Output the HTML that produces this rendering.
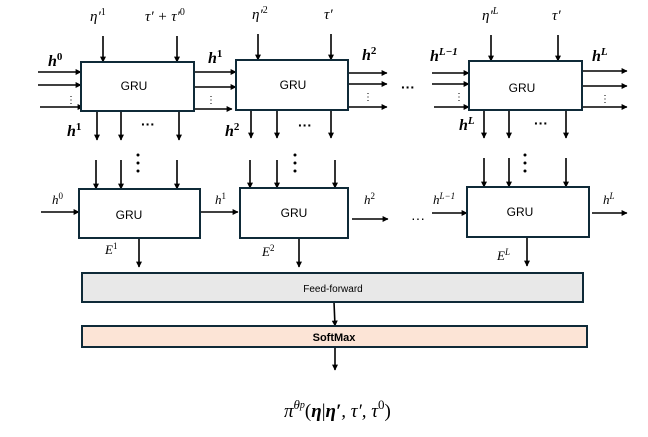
<!DOCTYPE html>
<html><head><meta charset="utf-8"><style>
body{margin:0;background:#fff}
svg{display:block}
.m{font-family:"Liberation Serif",serif;font-style:italic;font-size:15px}
.b{font-family:"Liberation Serif",serif;font-style:italic;font-weight:bold;font-size:16px}
.g{font-family:"Liberation Sans",sans-serif;font-size:12px}
</style></head><body>
<svg width="648" height="437" viewBox="0 0 648 437" xmlns="http://www.w3.org/2000/svg">
<defs><marker id="a" viewBox="0 0 10 10" refX="9" refY="5" markerWidth="6" markerHeight="6" markerUnits="userSpaceOnUse" orient="auto"><path d="M0,0L10,5L0,10z" fill="#000"/></marker></defs>
<g stroke="#000" stroke-width="1.6" marker-end="url(#a)" fill="none">
<line x1="103" y1="36" x2="103" y2="62"/><line x1="177" y1="36" x2="177" y2="62"/>
<line x1="258" y1="34" x2="258" y2="60"/><line x1="331" y1="34" x2="331" y2="60"/>
<line x1="491" y1="35" x2="491" y2="61"/><line x1="558" y1="35" x2="558" y2="61"/>
<line x1="38" y1="72" x2="81" y2="72"/><line x1="38" y1="85" x2="81" y2="85"/><line x1="40" y1="107" x2="83" y2="107"/>
<line x1="194" y1="72" x2="236" y2="72"/><line x1="194" y1="87" x2="236" y2="87"/><line x1="194" y1="109" x2="232" y2="109"/>
<line x1="348" y1="73" x2="387" y2="73"/><line x1="348" y1="84" x2="387" y2="84"/><line x1="348" y1="107" x2="387" y2="107"/>
<line x1="432" y1="73" x2="469" y2="73"/><line x1="432" y1="84" x2="469" y2="84"/><line x1="434" y1="107" x2="469" y2="107"/>
<line x1="582" y1="71" x2="627" y2="71"/><line x1="582" y1="86" x2="627" y2="86"/><line x1="582" y1="107" x2="627" y2="107"/>
<line x1="97" y1="111" x2="97" y2="140"/><line x1="121" y1="111" x2="121" y2="140"/><line x1="179" y1="111" x2="179" y2="140"/>
<line x1="251" y1="110" x2="251" y2="138"/><line x1="277" y1="110" x2="277" y2="138"/><line x1="331" y1="110" x2="331" y2="138"/>
<line x1="484" y1="110" x2="484" y2="138"/><line x1="509" y1="110" x2="509" y2="138"/><line x1="566" y1="110" x2="566" y2="138"/>
<line x1="96" y1="160" x2="96" y2="189"/><line x1="121" y1="160" x2="121" y2="189"/><line x1="177" y1="160" x2="177" y2="189"/>
<line x1="250" y1="160" x2="250" y2="188"/><line x1="277" y1="160" x2="277" y2="188"/><line x1="335" y1="160" x2="335" y2="188"/>
<line x1="484" y1="158" x2="484" y2="187"/><line x1="509" y1="158" x2="509" y2="187"/><line x1="566" y1="158" x2="566" y2="187"/>
<line x1="41" y1="212" x2="79" y2="212"/><line x1="201" y1="212" x2="238" y2="212"/>
<line x1="352" y1="219" x2="388" y2="219"/><line x1="432" y1="213" x2="467" y2="213"/><line x1="592" y1="213" x2="627" y2="213"/>
<line x1="139" y1="238" x2="139" y2="267"/><line x1="299" y1="238" x2="299" y2="267"/><line x1="527" y1="237" x2="527" y2="266"/>
<line x1="334" y1="302" x2="335" y2="326"/><line x1="335" y1="347" x2="335" y2="370"/>
</g>
<g fill="#fff" stroke="#0f2a38" stroke-width="2">
<rect x="81" y="62" width="113" height="49"/>
<rect x="236" y="60" width="112" height="50"/>
<rect x="469" y="61" width="113" height="49"/>
<rect x="79" y="189" width="121" height="49"/>
<rect x="240" y="188" width="108" height="50"/>
<rect x="467" y="187" width="122" height="50"/>
<rect x="82" y="273" width="501" height="29" fill="#e8e8e8"/>
<rect x="82" y="326" width="505" height="21" fill="#fce4d6"/>
</g>
<g class="g" text-anchor="middle">
<text x="134" y="90">GRU</text><text x="293" y="89">GRU</text><text x="522" y="92">GRU</text>
<text x="129" y="219">GRU</text><text x="294" y="217">GRU</text><text x="520" y="216">GRU</text>
<text x="333" y="292" font-size="10">Feed-forward</text>
<text x="334" y="341" font-weight="bold" font-size="11">SoftMax</text>
</g>
<g font-family="Liberation Sans" font-weight="bold" font-size="14" text-anchor="middle">
<text x="148" y="129">···</text><text x="305" y="130">···</text><text x="408" y="92">···</text><text x="541" y="128">···</text>
<text x="418" y="223" font-weight="normal">···</text>
</g>
<g fill="#000">
<circle cx="138" cy="155" r="1.5"/><circle cx="138" cy="163" r="1.5"/><circle cx="138" cy="171" r="1.5"/>
<circle cx="295" cy="155" r="1.5"/><circle cx="295" cy="163" r="1.5"/><circle cx="295" cy="171" r="1.5"/>
<circle cx="525" cy="155" r="1.5"/><circle cx="525" cy="163" r="1.5"/><circle cx="525" cy="171" r="1.5"/>
<g font-family="Liberation Sans" font-size="10">
<text x="66" y="103">⋮</text><text x="206" y="103">⋮</text><text x="363" y="100">⋮</text><text x="454" y="100">⋮</text><text x="600" y="102">⋮</text>
</g>
</g>
<g class="m">
<text x="90" y="21">η′<tspan font-size="10" dy="-6" font-style="normal">1</tspan></text>
<text x="145" y="21">τ′ + τ′<tspan font-size="10" dy="-6" font-style="normal">0</tspan></text>
<text x="252" y="19">η′<tspan font-size="10" dy="-6" font-style="normal">2</tspan></text>
<text x="324" y="19">τ′</text>
<text x="482" y="20">η′<tspan font-size="10" dy="-6">L</tspan></text>
<text x="552" y="20">τ′</text>
<text x="52" y="204" font-size="13">h<tspan font-size="9" dy="-5" font-style="normal">0</tspan></text>
<text x="215" y="204" font-size="13">h<tspan font-size="9" dy="-5" font-style="normal">1</tspan></text>
<text x="364" y="204" font-size="13">h<tspan font-size="9" dy="-5" font-style="normal">2</tspan></text>
<text x="433" y="204" font-size="13">h<tspan font-size="9" dy="-5">L−1</tspan></text>
<text x="603" y="204" font-size="13">h<tspan font-size="9" dy="-5">L</tspan></text>
<text x="105" y="254" font-size="13">E<tspan font-size="9" dy="-5" font-style="normal">1</tspan></text>
<text x="262" y="256" font-size="13">E<tspan font-size="9" dy="-5" font-style="normal">2</tspan></text>
<text x="497" y="260" font-size="13">E<tspan font-size="9" dy="-5">L</tspan></text>
<text x="284" y="417" font-size="19">π<tspan font-size="13" dy="-8">θ<tspan font-size="10" dy="-1">p</tspan></tspan><tspan dy="9" font-style="normal">(</tspan><tspan font-weight="bold">η</tspan><tspan font-style="normal">|</tspan><tspan font-weight="bold">η′</tspan>, τ′, τ<tspan font-size="13" dy="-8" font-style="normal">0</tspan><tspan dy="8" font-style="normal">)</tspan></text>
</g>
<g class="b">
<text x="48" y="66">h<tspan font-size="11" dy="-6" font-style="normal">0</tspan></text>
<text x="208" y="63">h<tspan font-size="11" dy="-6" font-style="normal">1</tspan></text>
<text x="362" y="60">h<tspan font-size="11" dy="-6" font-style="normal">2</tspan></text>
<text x="430" y="61">h<tspan font-size="11" dy="-6">L−1</tspan></text>
<text x="592" y="61">h<tspan font-size="11" dy="-6">L</tspan></text>
<text x="67" y="136">h<tspan font-size="11" dy="-6" font-style="normal">1</tspan></text>
<text x="225" y="136">h<tspan font-size="11" dy="-6" font-style="normal">2</tspan></text>
<text x="459" y="130">h<tspan font-size="11" dy="-6">L</tspan></text>
</g>
</svg>
</body></html>
